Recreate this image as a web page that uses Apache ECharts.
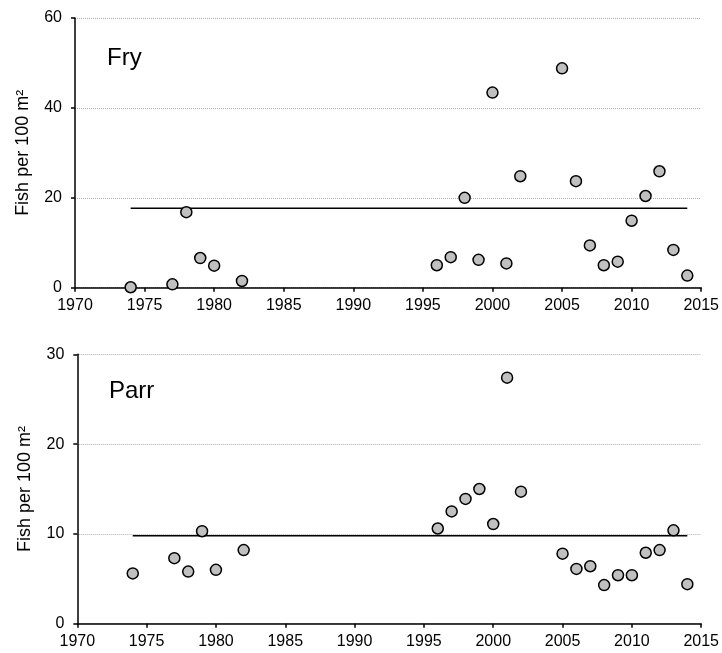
<!DOCTYPE html>
<html>
<head>
<meta charset="utf-8">
<script src="https://cdn.jsdelivr.net/npm/echarts@6/dist/echarts.min.js"></script>
<style>
  html, body { margin: 0; padding: 0; background: #fff; }
  #chart { width: 722px; height: 653px; }
</style>
</head>
<body>
<div id="chart"></div>
<script>
// Survey years (same for both life stages)
const years = [1974, 1977, 1978, 1979, 1980, 1982, 1996, 1997, 1998, 1999, 2000, 2001, 2002,
               2005, 2006, 2007, 2008, 2009, 2010, 2011, 2012, 2013, 2014];

// Densities, fish per 100 m²
const fry  = [0.1, 0.75, 16.8, 6.6, 4.9, 1.5, 5.0, 6.8, 20.0, 6.2, 43.4, 5.4, 24.8,
              48.8, 23.7, 9.4, 5.0, 5.8, 14.9, 20.4, 25.9, 8.4, 2.7];
const parr = [5.6, 7.3, 5.8, 10.3, 6.0, 8.2, 10.6, 12.5, 13.9, 15.0, 11.1, 27.4, 14.7,
              7.8, 6.1, 6.4, 4.3, 5.4, 5.4, 7.9, 8.2, 10.4, 4.4];

// Reference (mean) levels and the span they cover
const fryMean = 17.7;
const parrMean = 9.8;
const meanSpan = [1974, 2014];

// Axis ticks
const xTicks = { min: 1970, max: 2015, interval: 5 };
const fryTicks = { min: 0, max: 60, interval: 20 };
const parrTicks = { min: 0, max: 30, interval: 10 };

const FONT = '"Liberation Sans", Arial, sans-serif';
const yTitle = 'Fish per 100 m²';

function xAxis(gridIndex) {
  return {
    type: 'value', gridIndex,
    min: xTicks.min, max: xTicks.max, interval: xTicks.interval,
    axisLine: { show: true, lineStyle: { color: '#000', width: 1.5 } },
    axisTick: { show: true, inside: false, length: 4, lineStyle: { color: '#000', width: 1.5 } },
    axisLabel: { color: '#000', fontSize: 16, fontFamily: FONT, margin: 10,
                 formatter: v => String(v) },
    splitLine: { show: false }
  };
}
function yAxis(gridIndex, t) {
  return {
    type: 'value', gridIndex,
    min: t.min, max: t.max, interval: t.interval,
    name: yTitle, nameLocation: 'middle', nameRotate: 90, nameGap: 43,
    nameTextStyle: { color: '#000', fontSize: 18, fontFamily: FONT },
    axisLine: { show: true, onZero: false, lineStyle: { color: '#000', width: 1.5 } },
    axisTick: { show: true, inside: false, length: 4, lineStyle: { color: '#000', width: 1.5 } },
    axisLabel: { color: '#000', fontSize: 16, fontFamily: FONT, margin: 13 },
    splitLine: { show: true, lineStyle: { color: '#b0b0b0', width: 1, type: [1, 1] } }
  };
}
function points(idx, vals) {
  return {
    type: 'scatter', xAxisIndex: idx, yAxisIndex: idx,
    data: years.map((y, i) => [y, vals[i]]),
    symbol: 'circle', symbolSize: 11,
    itemStyle: { color: '#c0c0c0', borderColor: '#000', borderWidth: 1.5, opacity: 1 },
    z: 3, silent: true
  };
}
function meanLine(idx, level) {
  return {
    type: 'line', xAxisIndex: idx, yAxisIndex: idx,
    data: meanSpan.map(x => [x, level]),
    symbol: 'none', lineStyle: { color: '#000', width: 1.5 },
    z: 2, silent: true
  };
}

const chart = echarts.init(document.getElementById('chart'), null, { renderer: 'canvas' });
chart.setOption({
  animation: false,
  backgroundColor: '#fff',
  grid: [
    { left: 75, right: 20.3, top: 18, height: 269.7 },
    { left: 77.3, right: 18.7, top: 354.3, height: 269.4 }
  ],
  xAxis: [xAxis(0), xAxis(1)],
  yAxis: [yAxis(0, fryTicks), yAxis(1, parrTicks)],
  series: [
    meanLine(0, fryMean), points(0, fry),
    meanLine(1, parrMean), points(1, parr)
  ],
  graphic: [
    { type: 'text', left: 107, top: 46,
      style: { text: 'Fry', fontSize: 24, fontFamily: FONT, fill: '#000' } },
    { type: 'text', left: 109, top: 379,
      style: { text: 'Parr', fontSize: 24, fontFamily: FONT, fill: '#000' } }
  ]
});
</script>
</body>
</html>
